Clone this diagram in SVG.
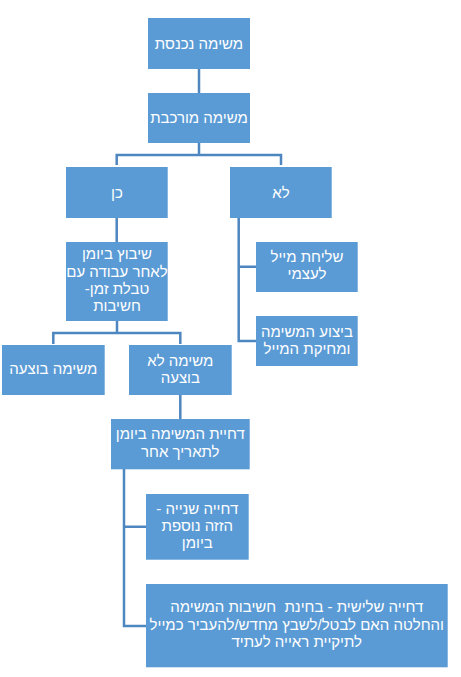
<svg xmlns="http://www.w3.org/2000/svg" width="461" height="677" viewBox="0 0 461 677">
<style>
.n rect{fill:#5B9BD5;}
.n text{fill:#FFFFFF;font-family:"Liberation Sans",Arial,sans-serif;font-size:15px;text-anchor:middle;direction:rtl;white-space:pre;}
.c path{fill:none;stroke:#4E86BF;stroke-width:2.5;}
</style>
<rect width="461" height="677" fill="#FFFFFF"/>
<g id="connectors" class="c">
<path d="M199 69 V93"/>
<path d="M199 143 V155 M116.7 165 V155 H281 V165"/>
<path d="M116.7 218 V242"/>
<path d="M238.7 218 V341 H256 M238.7 266.7 H256"/>
<path d="M117 321 V333 M53.3 344 V333 H180.3 V344"/>
<path d="M180.3 395 V419"/>
<path d="M124 469 V626 H146 M124 526.7 H146"/>
</g>
<g id="n1" class="n"><rect x="148" y="18" width="102" height="51"/><text x="199" y="48.5">משימה נכנסת</text></g>
<g id="n2" class="n"><rect x="148" y="93" width="102" height="50"/><text x="199" y="123">משימה מורכבת</text></g>
<g id="n3" class="n"><rect x="66" y="167" width="101.7" height="51"/><text x="117" y="197.5">כן</text></g>
<g id="n4" class="n"><rect x="230" y="167" width="101.7" height="51"/><text x="281" y="197.5">לא</text></g>
<g id="n5" class="n"><rect x="66" y="242" width="101.7" height="79"/><text x="117" y="259">שיבוץ ביומן</text><text x="117" y="277">לאחר עבודה עם</text><text x="117" y="294.3">טבלת זמן-</text><text x="117" y="311">חשיבות</text></g>
<g id="n6" class="n"><rect x="256" y="242" width="101.7" height="50"/><text x="307" y="262.3">שליחת מייל</text><text x="307" y="279">לעצמי</text></g>
<g id="n7" class="n"><rect x="256" y="316" width="101.7" height="50"/><text x="307" y="336.7">ביצוע המשימה</text><text x="307" y="354">ומחיקת המייל</text></g>
<g id="n8" class="n"><rect x="2" y="345" width="102.7" height="50"/><text x="53.3" y="374">משימה בוצעה</text></g>
<g id="n9" class="n"><rect x="129" y="345" width="102.7" height="50"/><text x="180.3" y="366">משימה לא</text><text x="180.3" y="383.3">בוצעה</text></g>
<g id="n10" class="n"><rect x="111" y="419" width="138.7" height="50.3"/><text x="180.3" y="439">דחיית המשימה ביומן</text><text x="180.3" y="456.7">לתאריך אחר</text></g>
<g id="n11" class="n"><rect x="146" y="494" width="102.7" height="65.7"/><text x="197.3" y="514.3">דחייה שנייה -</text><text x="197.3" y="531">הזזה נוספת</text><text x="197.3" y="547.7">ביומן</text></g>
<g id="n12" class="n"><rect x="146" y="584" width="301.7" height="83.3"/><text x="296.8" y="611.7">דחייה שלישית - בחינת  חשיבות המשימה</text><text x="296.8" y="630">והחלטה האם לבטל/לשבץ מחדש/להעביר כמייל</text><text x="296.8" y="646.7">לתיקיית ראייה לעתיד</text></g>
</svg>
